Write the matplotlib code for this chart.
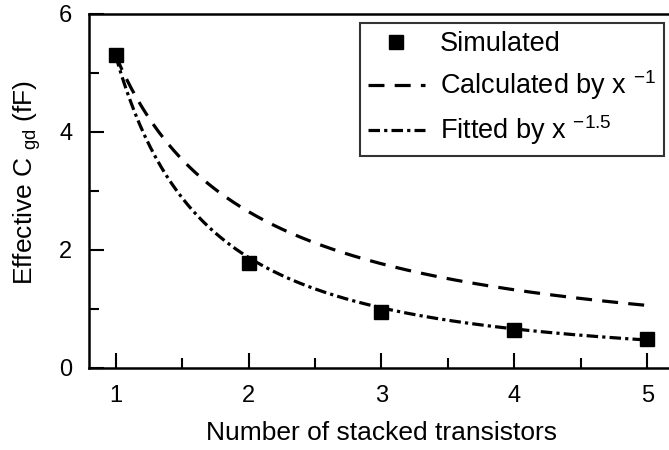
import matplotlib
matplotlib.use("Agg")
import matplotlib.pyplot as plt
import numpy as np

plt.rcParams['font.family'] = ['Liberation Sans', 'DejaVu Sans']
plt.rcParams['mathtext.fontset'] = 'custom'
plt.rcParams['mathtext.rm'] = 'Liberation Sans'
plt.rcParams['mathtext.it'] = 'Liberation Sans'
plt.rcParams['mathtext.default'] = 'rm'

# simulated effective Cgd vs number of stacked transistors
n_stack = [1, 2, 3, 4, 5]
cgd_sim = [5.3, 1.78, 0.95, 0.64, 0.49]

# power-law models: C = coef * x^exp
calc_coef, calc_exp = 5.3, -1.0
fit_coef, fit_exp = 5.3, -1.5

x = np.linspace(1, 5, 200)
calc = calc_coef * x ** calc_exp
fit = fit_coef * x ** fit_exp

fig = plt.figure(figsize=(6.69, 4.5), dpi=100)
ax = fig.add_axes([89 / 669, 1 - 368 / 450, 585 / 669, 354 / 450])

ax.plot(n_stack, cgd_sim, ls='none', marker='s', ms=10, color='black',
        label='Simulated', zorder=3)
ax.plot(x, calc, color='black', lw=2.3, dashes=(5, 3.2),
        label='Calculated by x $^{-1}$')
ax.plot(x, fit, color='black', lw=2.3, dashes=(3.6, 1.3, 1.0, 1.3),
        label='Fitted by x $^{-1.5}$')

ax.set_xlim(0.8, 5.2)
ax.set_ylim(0, 6)
ax.set_xticks([1, 2, 3, 4, 5])
ax.set_xticks([1.5, 2.5, 3.5, 4.5], minor=True)
ax.set_yticks([0, 2, 4, 6])
ax.set_yticks([1, 3, 5], minor=True)
ax.tick_params(which='both', direction='in', width=1.5, labelsize=17)
ax.tick_params(which='major', length=11)
ax.tick_params(which='minor', length=7)
ax.tick_params(axis='x', pad=12)
ax.tick_params(axis='y', pad=12)
for s in ax.spines.values():
    s.set_linewidth(1.8)
ax.spines['right'].set_visible(False)

ax.set_xlabel('Number of stacked transistors', fontsize=19, labelpad=10)
ax.set_ylabel('Effective C $_{\\mathrm{gd}}$ (fF)', fontsize=19)
ax.yaxis.set_label_coords(-0.078, 0.525)

leg = ax.legend(loc='upper right', bbox_to_anchor=(664 / 669, 1 - 23 / 450),
                bbox_transform=fig.transFigure,
                fontsize=19.5, frameon=True, fancybox=False, edgecolor='black',
                handlelength=2.1, handletextpad=0.55, borderpad=0.3,
                labelspacing=0.42, borderaxespad=0)
leg.get_frame().set_linewidth(1.5)

fig.savefig('out.png', dpi=100)
